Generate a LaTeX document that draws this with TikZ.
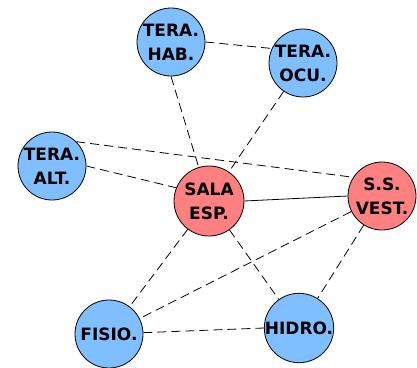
\documentclass[tikz,border=0pt]{standalone}
\usepackage{fontspec}
\setmainfont{DejaVu Sans}
\definecolor{roomblue}{RGB}{128,191,255}
\definecolor{hubred}{RGB}{255,128,128}

\begin{document}
\begin{tikzpicture}[
		x=1pt, y=-1pt,
		room/.style={circle, draw, minimum size=68pt, inner sep=0pt, align=center, line width=0.8pt, fill=roomblue, font=\bfseries\fontsize{17}{24}\selectfont},
		hub/.style={room, fill=hubred, minimum size=70pt},
		link/.style={line width=0.8pt, dash pattern=on 9pt off 5pt}
		]
		\useasboundingbox (0,0) rectangle (417,367);
		% Nodes
		\node (hab) [room] at (171,42) {TERA.\\HAB.};
		\node (ocu) [room] at (303,63) {TERA.\\OCU.};
		\node (alt) [room] at (52,166) {TERA.\\ALT.};
		\node (sala) [hub] at (209,201) {SALA\\ESP.};
		\node (vest) [room, fill=hubred] at (382,196) {S.S.\\VEST.};
		\node (fisio) [room] at (109,334) {FISIO.};
		\node (hidro) [room] at (299,328) {HIDRO.};
		
		% Links
		\draw [link] (hab.east) -- (ocu.155);
		\draw [link] (hab.south) -- (sala.107);
		\draw [link] (ocu) -- (sala);
		\draw [link] (alt.east) -- (sala.158);
		\draw [link] (alt.45) -- (vest.147);
		\draw [line width=0.8pt] (sala.east) -- (vest.west);
		\draw [link] (sala) -- (fisio);
		\draw [link] (sala) -- (hidro);
		\draw [link] (vest) -- (fisio);
		\draw [link] (vest) -- (hidro);
		\draw [link] (fisio) -- (hidro.west);
		
	\end{tikzpicture}
\end{document}
